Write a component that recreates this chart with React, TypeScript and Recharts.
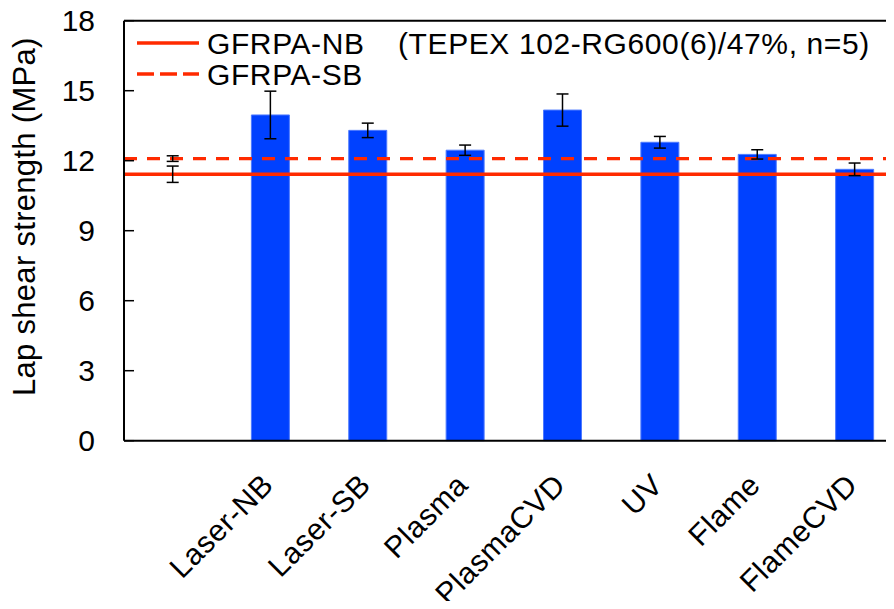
import {
  ComposedChart,
  Bar,
  Scatter,
  ErrorBar,
  XAxis,
  YAxis,
  ReferenceLine,
  Legend,
} from 'recharts'

const categories = ['', 'Laser-NB', 'Laser-SB', 'Plasma', 'PlasmaCVD', 'UV', 'Flame', 'FlameCVD']
const strength = [null, 13.96, 13.3, 12.45, 14.17, 12.79, 12.27, 11.63]
const strengthErr = [null, 1.02, 0.31, 0.22, 0.69, 0.25, 0.2, 0.27]

const refNames = ['GFRPA-NB', 'GFRPA-SB']
const refMeans = [11.42, 12.09]
const refErrs = [0.35, 0.12]
const refDashes = ['0', '13 10']
const note = '(TEPEX 102-RG600(6)/47%, n=5)'

const yTicks = [0, 3, 6, 9, 12, 15, 18]

const FONT = '"Liberation Sans", Arial, sans-serif'
const RED = '#ff2a00'
const BLUE = '#0041ff'

const data = categories.map((name, i) => ({
  name,
  strength: strength[i],
  err: strengthErr[i],
}))

const refData = refNames.map((n, i) => [{ name: categories[0], mean: refMeans[i], err: refErrs[i] }])

function CatTick({ x, y, payload }: any) {
  const tx = x + 5
  const ty = y + 46
  return (
    <text
      x={tx}
      y={ty}
      transform={`rotate(-45, ${tx}, ${ty})`}
      textAnchor="end"
      fontSize={30}
      letterSpacing={0.6}
      fontFamily={FONT}
      fill="#000"
    >
      {payload.value}
    </text>
  )
}

function YLabel({ viewBox }: any) {
  const x = viewBox.x - 9
  const y = viewBox.y + viewBox.height / 2 - 14
  return (
    <text
      x={x}
      y={y}
      transform={`rotate(-90, ${x}, ${y})`}
      textAnchor="middle"
      fontSize={31}
      letterSpacing={0.3}
      fontFamily={FONT}
      fill="#000"
    >
      Lap shear strength (MPa)
    </text>
  )
}

function RefLegend() {
  return (
    <svg width={800} height={80} style={{ display: 'block', overflow: 'visible' }}>
      {refNames.map((n, i) => (
        <g key={n}>
          <line
            x1={0}
            x2={62}
            y1={15 + 31 * i}
            y2={15 + 31 * i}
            stroke={RED}
            strokeWidth={3.3}
            strokeDasharray={refDashes[i] === '0' ? undefined : '17 6'}
          />
          <text x={70} y={26 + 31 * i} fontSize={30} letterSpacing={0.6} fontFamily={FONT} fill="#000">
            {n}
          </text>
        </g>
      ))}
      <text x={261} y={26} fontSize={30} letterSpacing={0.6} fontFamily={FONT} fill="#000">
        {note}
      </text>
    </svg>
  )
}

export default function App() {
  return (
    <div
      style={{
        width: 894,
        height: 609,
        margin: -8,
        overflow: 'hidden',
        position: 'relative',
        fontFamily: FONT,
      }}
    >
      <ComposedChart
        width={943}
        height={609}
        data={data}
        margin={{ top: 20.7, right: 40, bottom: 68.3, left: 44 }}
      >
        <XAxis
          dataKey="name"
          allowDuplicatedCategory={false}
          height={100}
          tickLine={false}
          tickSize={0}
          tickMargin={0}
          interval={0}
          axisLine={{ stroke: '#000', strokeWidth: 2 }}
          tick={<CatTick />}
        />
        <YAxis
          width={80}
          domain={[0, 18]}
          ticks={yTicks}
          interval={0}
          tickSize={-10}
          tickMargin={39}
          axisLine={{ stroke: '#000', strokeWidth: 2 }}
          tickLine={{ stroke: '#000', strokeWidth: 1.5 }}
          tick={{ fill: '#000', fontSize: 30, fontFamily: FONT }}
          label={<YLabel />}
        />
        <ReferenceLine y={18} stroke="#000" strokeWidth={2} />
        {refNames.map((n, i) => (
          <ReferenceLine
            key={n}
            y={refMeans[i]}
            stroke={RED}
            strokeWidth={3.3}
            strokeDasharray={refDashes[i] === '0' ? undefined : refDashes[i]}
          />
        ))}
        <Bar dataKey="strength" fill={BLUE} stroke="#4d7aff" strokeWidth={1} barSize={38} isAnimationActive={false}>
          <ErrorBar dataKey="err" width={6} stroke="#000" strokeWidth={1.5} direction="y" />
        </Bar>
        {refNames.map((n, i) => (
          <Scatter
            key={n}
            data={refData[i]}
            dataKey="mean"
            shape={() => null}
            isAnimationActive={false}
          >
            <ErrorBar dataKey="err" width={6} stroke="#000" strokeWidth={1.5} direction="y" />
          </Scatter>
        ))}
        <Legend
          layout="vertical"
          verticalAlign="middle"
          align="center"
          wrapperStyle={{ left: 137, top: 28, width: 800 }}
          content={<RefLegend />}
        />
      </ComposedChart>
    </div>
  )
}
